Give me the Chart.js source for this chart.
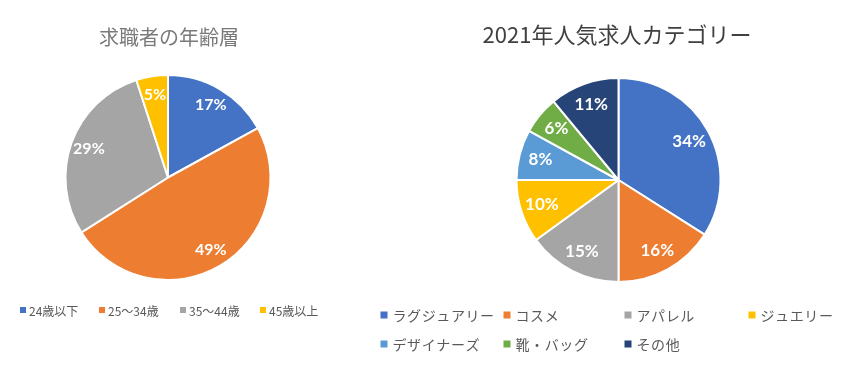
<!DOCTYPE html>
<html>
<head>
<meta charset="utf-8">
<script src="https://cdn.jsdelivr.net/npm/chart.js@4/dist/chart.umd.min.js"></script>
<style>
  html, body { margin: 0; padding: 0; background: #ffffff; }
  #wrap { position: relative; width: 854px; height: 379px; overflow: hidden; }
  #c1 { position: absolute; left: 0; top: 0; }
  #c2 { position: absolute; left: 340px; top: 0; }
</style>
</head>
<body>
<div id="wrap">
  <canvas id="c1" width="340" height="379"></canvas>
  <canvas id="c2" width="514" height="379"></canvas>
</div>
<script>
// ---- data ----
const ageTitle = '求職者の年齢層';
const ageLabels = ['24歳以下', '25～34歳', '35～44歳', '45歳以上'];
const ageValues = [17, 49, 29, 5];

const catTitle = '2021年人気求人カテゴリー';
const catLabels = ['ラグジュアリー', 'コスメ', 'アパレル', 'ジュエリー', 'デザイナーズ', '靴・バッグ', 'その他'];
const catValues = [34, 16, 15, 10, 8, 6, 11];

// ---- styles ----
const ageColors = ['#4472C4', '#ED7D31', '#A5A5A5', '#FFC000'];
const catColors = ['#4472C4', '#ED7D31', '#A5A5A5', '#FFC000', '#5B9BD5', '#70AD47', '#264478'];
const JP = '"Noto Sans CJK JP", "Noto Sans", sans-serif';

// custom plugin: title, value labels, grid legend
const decor = {
  id: 'decor',
  afterDatasetsDraw(chart, args, opts) {
    const ctx = chart.ctx;
    const meta = chart.getDatasetMeta(0);
    const data = chart.data.datasets[0].data;
    // value labels
    ctx.save();
    ctx.fillStyle = '#ffffff';
    ctx.font = opts.valueFont;
    ctx.textAlign = 'center';
    ctx.textBaseline = 'middle';
    meta.data.forEach((arc, i) => {
      const p = arc.getProps(['x', 'y', 'startAngle', 'endAngle', 'outerRadius'], true);
      const mid = (p.startAngle + p.endAngle) / 2;
      const r = p.outerRadius * opts.labelRatio;
      ctx.fillText(data[i] + '%', p.x + Math.cos(mid) * r, p.y + Math.sin(mid) * r);
    });
    ctx.restore();
    // title
    ctx.save();
    ctx.fillStyle = opts.titleColor;
    ctx.font = opts.titleFont;
    ctx.textAlign = 'center';
    ctx.textBaseline = 'middle';
    ctx.fillText(opts.title, opts.titleX, opts.titleY);
    ctx.restore();
    // legend
    ctx.save();
    ctx.font = opts.legendFont;
    ctx.textBaseline = 'middle';
    ctx.textAlign = 'left';
    if ('letterSpacing' in ctx) ctx.letterSpacing = opts.letterSpacing;
    const labels = chart.data.labels;
    const colors = chart.data.datasets[0].backgroundColor;
    labels.forEach((lab, i) => {
      const col = i % opts.cols.length;
      const row = Math.floor(i / opts.cols.length);
      const x = opts.cols[col];
      const y = opts.rows[row];
      const s = opts.box;
      ctx.fillStyle = colors[i];
      ctx.fillRect(x - s / 2, y - s / 2, s, s);
      ctx.fillStyle = opts.legendColor;
      ctx.fillText(lab, x + s / 2 + opts.gap, y + 1);
    });
    ctx.restore();
  }
};

function makePie(id, labels, values, colors, padding, radius, decorOpts) {
  return new Chart(document.getElementById(id), {
    type: 'pie',
    data: {
      labels: labels,
      datasets: [{
        data: values,
        backgroundColor: colors,
        borderColor: '#ffffff',
        borderWidth: 2,
        radius: radius
      }]
    },
    options: {
      responsive: false,
      animation: false,
      layout: { padding: padding },
      plugins: {
        legend: { display: false },
        title: { display: false },
        tooltip: { enabled: false },
        decor: decorOpts
      }
    },
    plugins: [decor]
  });
}

makePie('c1', ageLabels, ageValues, ageColors,
  { left: 0, right: 4, top: 60, bottom: 84 }, 102.5,
  {
    title: ageTitle, titleX: 169, titleY: 37,
    titleFont: '20px ' + JP, titleColor: '#7a7a7a',
    valueFont: 'bold 16px Lato, "Open Sans", sans-serif', labelRatio: 0.82,
    legendFont: '12px ' + JP, legendColor: '#595959', letterSpacing: '0px',
    cols: [23, 102, 183, 263], rows: [310], box: 6, gap: 3
  });

makePie('c2', catLabels, catValues, catColors,
  { left: 43, right: 0, top: 70, bottom: 89 }, 102,
  {
    title: catTitle, titleX: 277, titleY: 35,
    titleFont: '22px ' + JP, titleColor: '#404040',
    valueFont: 'bold 17px Lato, "Open Sans", sans-serif', labelRatio: 0.79,
    legendFont: '14px ' + JP, legendColor: '#595959', letterSpacing: '0.6px',
    cols: [44, 167, 288, 412], rows: [315, 344], box: 7, gap: 5
  });
</script>
</body>
</html>
